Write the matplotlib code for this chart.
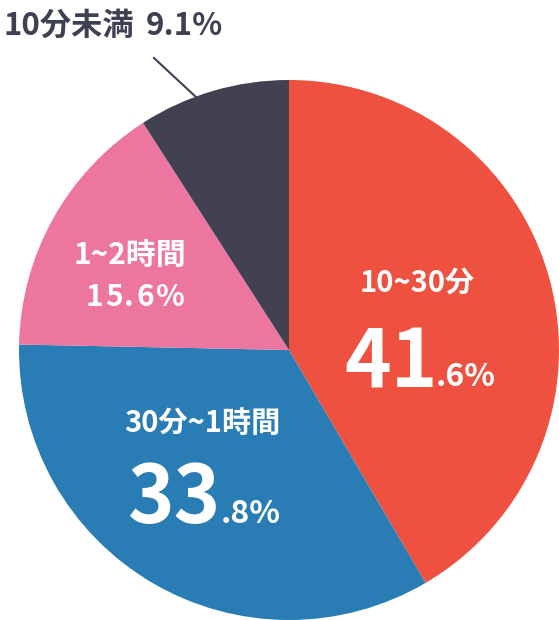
import matplotlib
matplotlib.use("Agg")
import matplotlib.pyplot as plt

plt.rcParams['font.family'] = ['Noto Sans CJK JP', 'DejaVu Sans']

categories = ["10~30分", "30分~1時間", "1~2時間", "10分未満"]
values = [41.6, 33.8, 15.6, 9.1]
colors = ["#EE5140", "#2A7DB4", "#EC769F", "#414152"]

W, H = 559, 620
fig = plt.figure(figsize=(W / 100, H / 100), dpi=100)
ax = fig.add_axes([0, 0, 1, 1])

cx, cy, r = 289, 350, 270
def Y(y):
    return H - y

ax.pie(values, colors=colors, startangle=90, counterclock=False,
       center=(cx, Y(cy)), radius=r, frame=True,
       wedgeprops=dict(linewidth=0))
ax.set_xlim(0, W)
ax.set_ylim(0, H)
ax.set_aspect('equal')
ax.axis('off')

white = 'white'
bold = 'bold'

# 10~30分 41.6%
ax.text(417, Y(283), categories[0], color=white, fontsize=21, fontweight=bold,
        ha='center', va='center')
ax.text(344, Y(387), f"{int(values[0])}", color=white, fontsize=57, fontweight=bold,
        ha='left', va='baseline')
ax.text(436, Y(386), f".{str(values[0]).split('.')[1]}%", color=white, fontsize=23,
        fontweight=bold, ha='left', va='baseline')

# 30分~1時間 33.8%
ax.text(202, Y(423), categories[1], color=white, fontsize=21, fontweight=bold,
        ha='center', va='center')
ax.text(128, Y(523), f"{int(values[1])}", color=white, fontsize=57, fontweight=bold,
        ha='left', va='baseline')
ax.text(221, Y(523), f".{str(values[1]).split('.')[1]}%", color=white, fontsize=23,
        fontweight=bold, ha='left', va='baseline')

# 1~2時間 15.6%
ax.text(130, Y(255), categories[2], color=white, fontsize=21.5, fontweight=bold,
        ha='center', va='center')
# 15.6% with slight letter spacing
s = f"{values[2]}%"
xs = [86, 105, 124, 136, 156]
for ch, x in zip(s, xs):
    ax.text(x, Y(297), ch, color=white, fontsize=21.5, fontweight=bold,
            ha='left', va='center')

# 10分未満 9.1%
ax.text(3, Y(26), categories[3], color="#3D4152", fontsize=22.5,
        fontweight=bold, ha='left', va='center')
ax.text(146, Y(26), f"{values[3]}%", color="#3D4152", fontsize=22.5,
        fontweight=bold, ha='left', va='center')
ax.plot([154, 197], [Y(58), Y(98)], color="#3D4152", linewidth=1.5)

fig.savefig("out.png", dpi=100)
